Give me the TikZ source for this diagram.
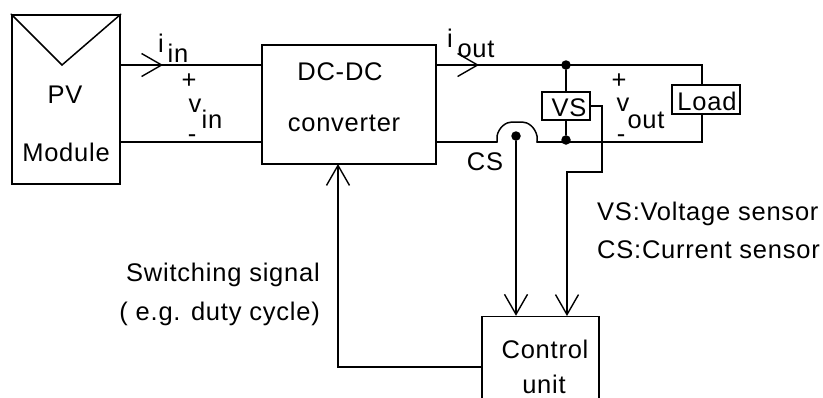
\documentclass[tikz,border=0pt]{standalone}
\usepackage{fontspec}
\setmainfont{Liberation Sans}
\usetikzlibrary{arrows.meta}
\tikzset{
  x=1pt,y=-1pt,
  wire/.style={line width=1.5pt,line cap=round,line join=miter},
  box/.style={draw,line width=1.5pt,inner sep=0pt,minimum width=#1},
  barb/.style={-{Straight Barb[length=20pt,width=23pt,line width=1.4pt]}},
  lab/.style={anchor=base,inner sep=0pt,font=\fontsize{25.5}{28}\selectfont\addfontfeatures{LetterSpace=3}},
  dot/.style={circle,fill=black,inner sep=0pt,minimum size=9.5pt}
}
\begin{document}
\begin{tikzpicture}
\useasboundingbox (0,0) rectangle (823,397);
\clip (0,0) rectangle (823,397);
\node[box=108pt,minimum height=169pt] (pv) at (66,99.5) {};
\node[box=174pt,minimum height=119pt] (conv) at (349,104.5) {};
\node[box=48pt,minimum height=28pt] (vs) at (566,106) {};
\node[box=68pt,minimum height=29pt] (load) at (706,99.5) {};
\node[box=117pt,minimum height=120pt] (ctrl) at (540.5,376.5) {};
% PV symbol
\coordinate (pvv) at (62,65);
\draw[wire] (pv.north west) -- (pvv) -- (pv.north east);
% named points
\coordinate (pvtop) at (pv.east |- 0,65);
\coordinate (pvbot) at (pv.east |- 0,142);
\coordinate (ctop) at (conv.west |- 0,65);
\coordinate (cbot) at (conv.west |- 0,142);
\coordinate (ia) at (163,65);
\draw[wire] (pvtop) -- (ctop);
\draw[wire] (pvbot) -- (cbot);
\draw[barb,wire] (pvtop) -- (ia);
% output
\coordinate (otop) at (conv.east |- 0,65);
\coordinate (obot) at (conv.east |- 0,142);
\coordinate (oa) at (479,65);
\coordinate (rt) at (702,65);
\coordinate (rb) at (702,142);
\coordinate (ba) at (497,142);
\coordinate (bb) at (537,142);
\node[dot] (j1) at (566,65) {};
\node[dot] (j2) at (566,140) {};
\node[dot] (cs) at (516,136) {};
\draw[wire] (otop) -- (rt) -- (load.north -| rt);
\draw[wire] (load.south -| rt) -- (rb) -- (bb) (ba) -- (obot);
\draw[wire] (ba) -- (497,136) .. controls (499,127) and (506,122) .. (512,122) -- (522,122) .. controls (528,122) and (535,127) .. (537,136) -- (bb);
\draw[barb,wire] (otop) -- (oa);
\draw[wire] (j1) -- (vs.north);
\draw[wire] (vs.south) -- (j2);
% sensors
\coordinate (csb) at (cs |- ctrl.north);
\draw[barb,wire] (cs) -- (csb);
\coordinate (s1) at (602,106);
\coordinate (s2) at (602,172);
\coordinate (s3) at (567,172);
\coordinate (s4) at (567,316);
\draw[barb,wire] (vs.east) -- (s1) -- (s2) -- (s3) -- (s4);
% feedback
\coordinate (f1) at (338,367);
\coordinate (f2) at (338,164);
\draw[barb,wire] (ctrl.west |- f1) -- (f1) -- (f2);
% text
\node[lab] (t1) at (65,103) {PV};
\node[lab] (t2) at (66,161) {Module};
\node[lab] (t3) at (340,80) {DC-DC};
\node[lab] (t4) at (344,131) {converter};
\node[lab] (t5) at (485,170) {CS};
\node[lab] (t6) at (569,116) {VS};
\node[lab] (t7) at (707,110) {Load};
\node[lab] (t8) at (545,358) {Control};
\node[lab] (t9) at (544,393) {unit};
\node[lab,anchor=base west] (t10) at (597,220) {VS:Voltage sensor};
\node[lab,anchor=base west] (t11) at (597,258) {CS:Current sensor};
\node[lab,anchor=base east] (t12) at (320,281) {Switching signal};
\node[lab,anchor=base east] (t13) at (320,320) {( e.g. duty cycle)};
\node[lab] (i1) at (161,52) {i};
\node[lab] (i2) at (178,62) {in};
\node[lab] (p1) at (189,88) {+};
\node[lab] (v1) at (195,112) {v};
\node[lab] (i3) at (212,128) {in};
\node[lab] (m1) at (192,142) {-};
\node[lab] (i4) at (450,47) {i};
\node[lab] (i5) at (476,57) {out};
\node[lab] (p2) at (619,88) {+};
\node[lab] (v2) at (623,111) {v};
\node[lab] (i6) at (646,128) {out};
\node[lab] (m2) at (621,142) {-};
\end{tikzpicture}
\end{document}
